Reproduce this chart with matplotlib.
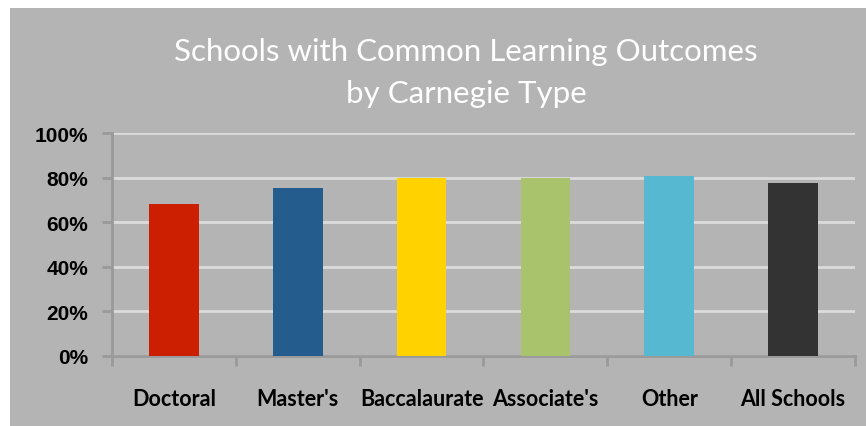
import matplotlib.pyplot as plt
from matplotlib.patches import Rectangle
from matplotlib.ticker import FixedLocator, PercentFormatter

# data
categories = ["Doctoral", "Master's", "Baccalaurate", "Associate's", "Other", "All Schools"]
values = [0.68, 0.755, 0.797, 0.797, 0.806, 0.776]
colors = ["#CC1E00", "#255C8E", "#FFD200", "#A9C36C", "#56B8D1", "#333333"]
yticks = [0, 0.2, 0.4, 0.6, 0.8, 1.0]
title_lines = ["Schools with Common Learning Outcomes", "by Carnegie Type"]

bg = "#B4B4B4"
W, H = 866, 427

fig = plt.figure(figsize=(W / 100, H / 100), dpi=100, facecolor=bg)
# thin white border on top and left
fig.patches.append(Rectangle((0, 1 - 9 / H), 1, 9 / H, transform=fig.transFigure,
                             facecolor="white", edgecolor="none"))
fig.patches.append(Rectangle((0, 0), 10 / W, 1, transform=fig.transFigure,
                             facecolor="white", edgecolor="none"))

ax = fig.add_axes([112 / W, 1 - 357 / H, 743 / W, 223 / H])
ax.set_facecolor(bg)

x = list(range(len(categories)))
ax.bar(x, values, width=0.4, color=colors, zorder=3)

ax.set_xlim(-0.5, len(categories) - 0.5)
ax.set_ylim(0, 1)
ax.set_yticks(yticks)
ax.yaxis.set_major_formatter(PercentFormatter(1.0, decimals=0))
ax.grid(axis="y", color="#DCDCDC", linewidth=2, zorder=1)
ax.set_axisbelow(True)

for side in ["top", "right"]:
    ax.spines[side].set_visible(False)
for side in ["left", "bottom"]:
    ax.spines[side].set_color("#9A9A9A")
    ax.spines[side].set_linewidth(2)

ax.set_xticks(x)
ax.set_xticklabels(categories, fontfamily="Lato", fontweight="bold",
                   fontsize=15.5, color="black")
ax.tick_params(axis="x", length=0, pad=23)
ax.xaxis.set_minor_locator(FixedLocator([i - 0.5 for i in range(len(categories) + 1)]))
ax.tick_params(axis="x", which="minor", length=7, width=2, color="#9A9A9A")

ax.tick_params(axis="y", length=7, width=2, color="#9A9A9A", pad=10)
for lab in ax.get_yticklabels():
    lab.set_fontfamily("Liberation Sans")
    lab.set_fontweight("bold")
    lab.set_fontsize(15)

fig.text(466 / W, 1 - 52 / H, title_lines[0], ha="center", va="center",
         color="white", fontsize=22.5, fontfamily="Lato")
fig.text(466 / W, 1 - 94 / H, title_lines[1], ha="center", va="center",
         color="white", fontsize=22.5, fontfamily="Lato")

fig.savefig("out.png", dpi=100, facecolor=fig.get_facecolor())
